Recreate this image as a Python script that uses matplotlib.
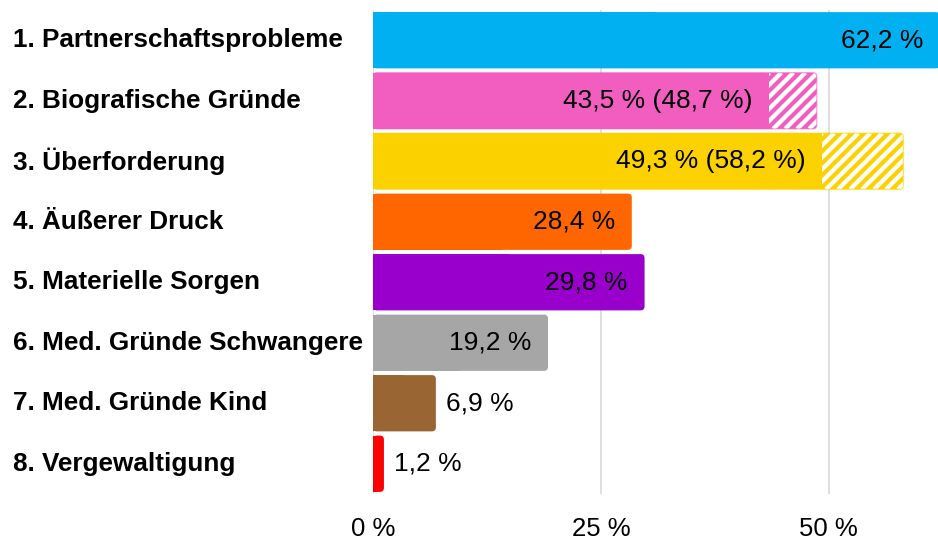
import matplotlib.pyplot as plt
from matplotlib.patches import FancyBboxPatch, Rectangle
from matplotlib.transforms import blended_transform_factory

plt.rcParams['font.family'] = ['Liberation Sans', 'DejaVu Sans']

labels = ['1. Partnerschaftsprobleme', '2. Biografische Gründe', '3. Überforderung',
          '4. Äußerer Druck', '5. Materielle Sorgen', '6. Med. Gründe Schwangere',
          '7. Med. Gründe Kind', '8. Vergewaltigung']
values = [62.2, 43.5, 49.3, 28.4, 29.8, 19.2, 6.9, 1.2]
extended = [None, 48.7, 58.2, None, None, None, None, None]
colors = ['#00B0F0', '#F25EC0', '#FBD200', '#FF6600', '#9900CC', '#A6A6A6', '#996633', '#FF0000']
xticks = [0, 25, 50]

def fmt(v):
    return ('%.1f %%' % v).replace('.', ',')

W, H = 938, 540
fig = plt.figure(figsize=(W / 100, H / 100), dpi=100)
ax = fig.add_axes([373 / W, 1 - 494 / H, 1 - 373 / W, (494 - 10) / H])

y = list(range(len(values)))
XMAX = 62.0
ax.set_xlim(0, XMAX)
ax.set_ylim(len(values) - 0.5, -0.5)

# px -> data conversion (for rounded corners and stripes)
px_x = XMAX / (W - 373)
px_y = len(values) / (494 - 10)
r = 4
rstyle = 'round,pad=0,rounding_size=%f' % (r * px_x)

# hatched extensions (white diagonal stripes)
for i, ext in enumerate(extended):
    if ext is None:
        continue
    bh = ax.barh(i, ext, height=0.93, color='none')[0]
    x0, y0, w, h = bh.get_x(), bh.get_y(), bh.get_width(), bh.get_height()
    bh.remove()
    p = FancyBboxPatch((x0, y0), w, h, boxstyle=rstyle, mutation_aspect=px_y / px_x,
                       facecolor=colors[i], edgecolor='none', zorder=2)
    ax.add_patch(p)
    hpx = h / px_y
    xs = x0 + values[i] - hpx * px_x
    while xs < x0 + w:
        ln, = ax.plot([xs, xs + hpx * px_x], [y0 + h, y0], color='white', lw=3.1,
                      solid_capstyle='butt', zorder=3)
        ln.set_clip_path(p)
        xs += 12 * px_x
    p2 = FancyBboxPatch((x0, y0), w, h, boxstyle=rstyle, mutation_aspect=px_y / px_x,
                        facecolor='none', edgecolor=colors[i], alpha=0.45,
                        linewidth=1.0, zorder=3.5)
    ax.add_patch(p2)

bars = ax.barh(y, values, height=0.93, color=colors)
for i, b in enumerate(bars):
    x0, y0, w, h = b.get_x(), b.get_y(), b.get_width(), b.get_height()
    b.set_visible(False)
    if extended[i] is None:
        p = FancyBboxPatch((x0, y0), w, h, boxstyle=rstyle, mutation_aspect=px_y / px_x,
                           facecolor=colors[i], edgecolor='none', zorder=4)
        ax.add_patch(p)
        ax.add_patch(Rectangle((x0, y0), w / 2, h, facecolor=colors[i], edgecolor='none', zorder=4))
    else:
        ax.add_patch(Rectangle((x0, y0), w, h, facecolor=colors[i], edgecolor='none', zorder=4))

# value labels
for i, v in enumerate(values):
    txt = fmt(v)
    if extended[i] is not None:
        txt += ' (' + fmt(extended[i]) + ')'
    if v > 15:
        ax.annotate(txt, (v, i), xytext=(-12.2, 0), textcoords='offset points',
                    ha='right', va='center', fontsize=19, color='black', zorder=5,
                    annotation_clip=False)
    else:
        ax.annotate(txt, (v, i), xytext=(7.2, 0), textcoords='offset points',
                    ha='left', va='center', fontsize=19, color='black', zorder=5,
                    annotation_clip=False)

# category labels
tr = blended_transform_factory(fig.transFigure, ax.transData)
for i, lab in enumerate(labels):
    ax.text(13 / W, i, lab, transform=tr, ha='left', va='center', fontsize=18.8,
            fontweight='bold', color='black')

ax.set_xticks(xticks)
ax.set_xticklabels(['%d %%' % t for t in xticks], fontsize=18.5)
ax.tick_params(axis='x', length=0, pad=16.5)
ax.set_yticks([])
ax.grid(axis='x', color='#D9D9D9', linewidth=1.2, zorder=0)
ax.set_axisbelow(True)
for s in ax.spines.values():
    s.set_visible(False)

fig.savefig('out.png', dpi=100)
